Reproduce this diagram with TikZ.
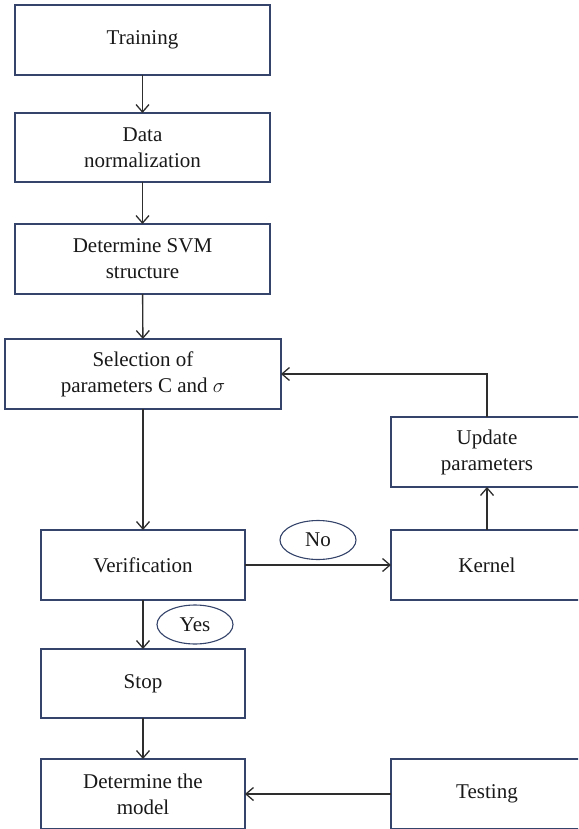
\documentclass[tikz,border=0pt]{standalone}
\usepackage{fontspec}
\setmainfont{Liberation Serif}
\usetikzlibrary{arrows.meta,shapes.geometric}
\definecolor{boxline}{HTML}{34446A}
\definecolor{arrline}{HTML}{2E2E2E}
\tikzset{
  x=1pt, y=-1pt,
  box/.style={draw=boxline, line width=1.2pt, fill=white, inner sep=2pt, outer sep=0pt,
    align=center, font=\fontsize{21}{26}\selectfont, text=black!90},
  tag/.style={draw=boxline, line width=1.1pt, ellipse, inner sep=0pt, outer sep=0pt,
    minimum width=76pt, minimum height=39pt, font=\fontsize{21}{24}\selectfont, text=black!90},
  conn/.style={draw=arrline, line width=1.4pt, -{Straight Barb[length=7.5pt,width=13pt,line width=1.3pt]}},
}
\begin{document}
\begin{tikzpicture}
\useasboundingbox (0,0) rectangle (578,829);
\clip (0,0) rectangle (578,829);
\node[box, minimum width=255pt, minimum height=70pt] (train) at (142.5,40) {Training};
\node[box, minimum width=255pt, minimum height=69pt] (norm) at (142.5,147.5) {Data\\normalization};
\node[box, minimum width=255pt, minimum height=70pt] (svm) at (142.5,259) {Determine SVM\\structure};
\node[box, minimum width=276pt, minimum height=70pt] (sel) at (143,374) {Selection of\\parameters C and $\sigma$};
\node[box, minimum width=192pt, minimum height=70pt] (upd) at (487,452) {Update\\parameters};
\node[box, minimum width=204pt, minimum height=70pt] (ver) at (143,565) {Verification};
\node[box, minimum width=192pt, minimum height=70pt] (ker) at (487,565) {Kernel};
\node[box, minimum width=204pt, minimum height=69pt] (stop) at (143,683.5) {Stop};
\node[box, minimum width=204pt, minimum height=70pt] (model) at (143,794) {Determine the\\model};
\node[box, minimum width=192pt, minimum height=70pt] (test) at (487,794) {Testing};
\node[tag] (no) at (318,540) {No};
\node[tag] (yes) at (195,624.5) {Yes};
\draw[conn] (train) -- (norm);
\draw[conn] (norm) -- (svm);
\draw[conn] (svm) -- (sel);
\draw[conn] (sel) -- (ver);
\draw[conn] (ver) -- (stop);
\draw[conn] (stop) -- (model);
\draw[conn] (ver.east) -- (ker.west);
\draw[conn] (ker) -- (upd);
\draw[conn] (upd.north) |- (sel.east);
\draw[conn] (test) -- (model);
\end{tikzpicture}
\end{document}
